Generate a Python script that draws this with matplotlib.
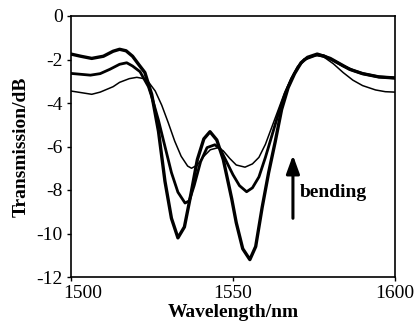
import matplotlib
matplotlib.use("Agg")
import matplotlib.pyplot as plt
import matplotlib.transforms as mtransforms

plt.rcParams["font.family"] = ["Liberation Serif", "DejaVu Serif"]
plt.rcParams["axes.unicode_minus"] = False

# transmission spectra (wavelength nm, dB)
wl_a = [1500, 1503, 1506.4, 1510, 1513, 1515, 1517, 1519, 1521, 1522.8, 1524.9,
        1527, 1529, 1531, 1533, 1535, 1537, 1539, 1541, 1542.9, 1545, 1547,
        1549.6, 1551, 1553, 1555.2, 1557, 1559, 1561, 1563, 1565, 1567, 1569,
        1571, 1573, 1576, 1580, 1583, 1586, 1590, 1595, 1600]
db_a = [-1.75, -1.85, -1.95, -1.85, -1.62, -1.53, -1.6, -1.85, -2.25, -2.6, -3.6,
        -5.3, -7.6, -9.3, -10.2, -9.7, -8.2, -6.6, -5.65, -5.32, -5.7, -6.6,
        -8.4, -9.5, -10.7, -11.2, -10.6, -8.8, -7.2, -5.8, -4.3, -3.3, -2.65,
        -2.15, -1.9, -1.75, -1.95, -2.2, -2.45, -2.65, -2.8, -2.85]

wl_b = [1500, 1503, 1506, 1509, 1512, 1515, 1517.2, 1519, 1521.3, 1523.9, 1525,
        1527, 1529, 1531, 1533, 1535.2, 1536.5, 1538, 1540, 1542, 1544.4, 1546,
        1548, 1550, 1552, 1554.2, 1556, 1558, 1560, 1562, 1564, 1566, 1568, 1570,
        1572, 1576, 1578, 1581, 1584, 1587, 1590, 1595, 1600]
db_b = [-2.64, -2.68, -2.72, -2.65, -2.45, -2.22, -2.15, -2.3, -2.56, -3.25, -3.75,
        -4.8, -6.0, -7.2, -8.1, -8.6, -8.5, -7.8, -6.7, -6.05, -5.92, -6.1,
        -6.7, -7.3, -7.8, -8.08, -7.9, -7.4, -6.5, -5.5, -4.5, -3.6, -2.9, -2.35,
        -2.0, -1.78, -1.82, -2.05, -2.3, -2.5, -2.65, -2.8, -2.85]

wl_c = [1500, 1503, 1506.4, 1509, 1513, 1515, 1518, 1520.3, 1522.2, 1524, 1526,
        1528, 1530, 1532, 1534, 1536, 1537.2, 1539, 1541, 1543, 1545.5, 1547,
        1549, 1551, 1553.7, 1556, 1558, 1560, 1562, 1564, 1566, 1568, 1570,
        1572, 1575, 1578, 1581, 1584, 1587, 1590, 1594, 1597, 1600]
db_c = [-3.45, -3.52, -3.6, -3.5, -3.25, -3.05, -2.88, -2.82, -2.87, -3.05, -3.45,
        -4.1, -4.9, -5.75, -6.45, -6.9, -7.0, -6.85, -6.45, -6.15, -6.05, -6.2,
        -6.55, -6.85, -6.95, -6.8, -6.5, -5.9, -5.1, -4.3, -3.5, -2.85, -2.35,
        -2.0, -1.8, -1.88, -2.2, -2.6, -2.95, -3.2, -3.4, -3.48, -3.5]

xticks = [1500, 1550, 1600]
yticks = [0, -2, -4, -6, -8, -10, -12]


fig = plt.figure(figsize=(4.16, 3.23), dpi=100)
ax = fig.add_axes([71 / 416, 1 - 277 / 323, 324 / 416, 261 / 323])

ax.plot(wl_a, db_a, color="k", lw=2.4, solid_joinstyle="round")
ax.plot(wl_b, db_b, color="k", lw=2.0, solid_joinstyle="round")
ax.plot(wl_c, db_c, color="k", lw=1.1, solid_joinstyle="round")

ax.set_xlim(1500, 1600)
ax.set_ylim(-12, 0)
ax.set_xticks(xticks)
ax.set_yticks(yticks)
ax.tick_params(direction="out", length=3, width=1, labelsize=14, pad=3)
for s in ax.spines.values():
    s.set_linewidth(1.2)

# push the 1500 label right so it clears the -12 label
lbl = ax.get_xticklabels()[0]
lbl.set_transform(lbl.get_transform() + mtransforms.ScaledTranslation(
    12 / 100, 0, fig.dpi_scale_trans))

ax.set_xlabel("Wavelength/nm", fontsize=14, fontweight="bold", labelpad=1)
ax.set_ylabel("Transmission/dB", fontsize=14, fontweight="bold", labelpad=5)

ax.annotate("", xy=(1568.5, -6.4), xytext=(1568.5, -9.3),
            arrowprops=dict(arrowstyle="-|>,head_width=0.4,head_length=1.1",
                            lw=2.2, color="k", mutation_scale=10,
                            shrinkA=0, shrinkB=0))
ax.text(1570.6, -8.1, "bending", fontsize=14, fontweight="bold",
        ha="left", va="center")

fig.savefig("out.png", dpi=100)
